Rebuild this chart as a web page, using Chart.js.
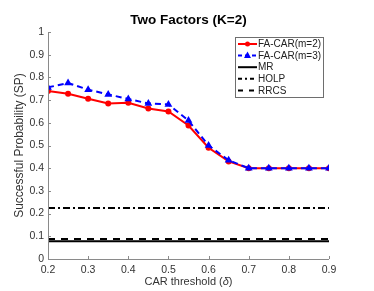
<!DOCTYPE html>
<html>
<head>
<meta charset="utf-8">
<script src="https://cdn.jsdelivr.net/npm/chart.js@4.4.0/dist/chart.umd.min.js"></script>
<style>
  html, body { margin: 0; padding: 0; background: #fff; }
  #wrap { width: 374px; height: 291px; }
</style>
</head>
<body>
<div id="wrap"><canvas id="spChart" width="374" height="291"></canvas></div>
<script>
// data
const thresholds = [0.2, 0.25, 0.3, 0.35, 0.4, 0.45, 0.5, 0.55, 0.6, 0.65, 0.7, 0.75, 0.8, 0.85, 0.9];
const facarM2 = [0.74, 0.728, 0.706, 0.685, 0.688, 0.663, 0.65, 0.588, 0.49, 0.43, 0.40, 0.40, 0.40, 0.40, 0.40];
const facarM3 = [0.756, 0.775, 0.746, 0.725, 0.705, 0.685, 0.681, 0.61, 0.50, 0.435, 0.40, 0.40, 0.40, 0.40, 0.40];
const mrValue = 0.078;
const holpValue = 0.225;
const rrcsValue = 0.088;
const xTicks = [0.2, 0.3, 0.4, 0.5, 0.6, 0.7, 0.8, 0.9];
const yTicks = [0, 0.1, 0.2, 0.3, 0.4, 0.5, 0.6, 0.7, 0.8, 0.9, 1];

const FONT = '"Liberation Sans", Arial, Helvetica, sans-serif';
const axisGray = '#8a8a8a';
const textGray = '#333';

function flatLine(v) {
    return [{ x: thresholds[0], y: v }, { x: thresholds[thresholds.length - 1], y: v }];
}

const series = [
    { label: 'FA-CAR(m=2)', color: '#ff0000', dash: [], marker: 'circle', size: 3,
      data: thresholds.map((x, i) => ({ x: x, y: facarM2[i] })), order: 1 },
    { label: 'FA-CAR(m=3)', color: '#0000ff', dash: [6, 4], marker: 'triangle', size: 4.5,
      data: thresholds.map((x, i) => ({ x: x, y: facarM3[i] })), order: 0 },
    { label: 'MR', color: '#000', dash: [], marker: false, size: 0, data: flatLine(mrValue), order: 2 },
    { label: 'HOLP', color: '#000', dash: [7, 3, 2, 3], marker: false, size: 0, data: flatLine(holpValue), order: 2 },
    { label: 'RRCS', color: '#000', dash: [7, 6], marker: false, size: 0, data: flatLine(rrcsValue), order: 2 }
];

// title, axis labels, axis lines, inward ticks and the boxed legend
const decorations = {
    id: 'decorations',
    afterDraw(chart) {
        const ctx = chart.ctx;
        const a = chart.chartArea;
        const xs = chart.scales.x, ys = chart.scales.y;
        ctx.save();

        // axes
        ctx.strokeStyle = axisGray;
        ctx.lineWidth = 1;
        ctx.beginPath();
        ctx.moveTo(a.left + 0.5, a.top);
        ctx.lineTo(a.left + 0.5, a.bottom + 0.5);
        ctx.lineTo(a.right, a.bottom + 0.5);
        ctx.stroke();
        ctx.beginPath();
        yTicks.forEach(v => {
            const y = Math.round(ys.getPixelForValue(v)) + 0.5;
            ctx.moveTo(a.left, y); ctx.lineTo(a.left + 3, y);
        });
        xTicks.forEach(v => {
            const x = Math.round(xs.getPixelForValue(v)) + 0.5;
            ctx.moveTo(x, a.bottom); ctx.lineTo(x, a.bottom - 3);
        });
        ctx.stroke();

        // title
        ctx.fillStyle = '#000';
        ctx.textAlign = 'center';
        ctx.textBaseline = 'middle';
        ctx.font = 'bold 13.5px ' + FONT;
        ctx.fillText('Two Factors (K=2)', (a.left + a.right) / 2, 20);

        // x label with italic delta
        ctx.fillStyle = textGray;
        ctx.font = '11px ' + FONT;
        const p1 = 'CAR threshold (', p3 = ')';
        ctx.font = '11px ' + FONT;
        const w1 = ctx.measureText(p1).width, w3 = ctx.measureText(p3).width;
        ctx.font = 'italic 11px ' + FONT;
        const w2 = ctx.measureText('δ').width;
        let x0 = (a.left + a.right) / 2 - (w1 + w2 + w3) / 2;
        ctx.textAlign = 'left';
        ctx.font = '11px ' + FONT;
        ctx.fillText(p1, x0, 282);
        ctx.font = 'italic 11px ' + FONT;
        ctx.fillText('δ', x0 + w1, 282);
        ctx.font = '11px ' + FONT;
        ctx.fillText(p3, x0 + w1 + w2, 282);

        // y label
        ctx.save();
        ctx.translate(20, (a.top + a.bottom) / 2);
        ctx.rotate(-Math.PI / 2);
        ctx.textAlign = 'center';
        ctx.font = '12px ' + FONT;
        ctx.fillText('Successful Probability (SP)', 0, 0);
        ctx.restore();

        // legend
        const bx = 235.5, by = 37.5, bw = 88, bh = 60;
        ctx.fillStyle = '#fff';
        ctx.fillRect(bx, by, bw, bh);
        ctx.strokeStyle = '#6e6e6e';
        ctx.setLineDash([]);
        ctx.strokeRect(bx, by, bw, bh);
        series.forEach((s, i) => {
            const y = 44 + i * 11.6;
            const lx0 = 238, lx1 = 257;
            ctx.strokeStyle = s.color;
            ctx.lineWidth = 2;
            ctx.setLineDash(s.dash.length ? [4, 3, 2, 3].slice(0, s.dash.length) : []);
            if (s.label === 'RRCS') ctx.setLineDash([5, 6]);
            if (s.label === 'FA-CAR(m=3)') ctx.setLineDash([4, 3]);
            ctx.beginPath();
            ctx.moveTo(lx0, y); ctx.lineTo(lx1, y);
            ctx.stroke();
            ctx.setLineDash([]);
            const mx = (lx0 + lx1) / 2;
            ctx.fillStyle = s.color;
            if (s.marker === 'circle') {
                ctx.beginPath(); ctx.arc(mx, y, 2.5, 0, Math.PI * 2); ctx.fill();
            } else if (s.marker === 'triangle') {
                ctx.beginPath();
                ctx.moveTo(mx, y - 4); ctx.lineTo(mx + 3.5, y + 2.5); ctx.lineTo(mx - 3.5, y + 2.5);
                ctx.closePath(); ctx.fill();
            }
            ctx.fillStyle = '#222';
            ctx.textAlign = 'left';
            ctx.font = '10px ' + FONT;
            ctx.fillText(s.label, 258, y + 0.5);
        });
        ctx.restore();
    }
};

document.addEventListener('DOMContentLoaded', function () {
    const ctx = document.getElementById('spChart').getContext('2d');

    new Chart(ctx, {
        type: 'line',
        data: {
            datasets: series.map(s => ({
                label: s.label,
                data: s.data,
                borderColor: s.color,
                backgroundColor: s.color,
                borderWidth: 2,
                borderDash: s.dash,
                pointStyle: s.marker,
                pointRadius: s.size,
                pointBorderWidth: 0,
                fill: false,
                tension: 0,
                order: s.order
            }))
        },
        plugins: [decorations],
        options: {
            responsive: false,
            animation: false,
            layout: { padding: { top: 32, right: 45, left: 0, bottom: 0 } },
            plugins: { legend: { display: false }, tooltip: { enabled: false }, title: { display: false } },
            scales: {
                x: {
                    type: 'linear',
                    min: 0.2, max: 0.9,
                    afterBuildTicks: s => { s.ticks = xTicks.map(v => ({ value: v })); },
                    afterFit: s => { s.height = 32; },
                    grid: { display: false, drawTicks: false },
                    border: { display: false },
                    ticks: { color: textGray, font: { family: FONT, size: 10.5 }, padding: 5, maxRotation: 0,
                             callback: v => v.toFixed(1) }
                },
                y: {
                    min: 0, max: 1,
                    afterBuildTicks: s => { s.ticks = yTicks.map(v => ({ value: v })); },
                    afterFit: s => { s.width = 48; },
                    grid: { display: false, drawTicks: false },
                    border: { display: false },
                    ticks: { color: textGray, font: { family: FONT, size: 10.5 }, padding: 4,
                             callback: v => (v === 0 || v === 1) ? String(v) : v.toFixed(1) }
                }
            }
        }
    });
});
</script>
</body>
</html>
